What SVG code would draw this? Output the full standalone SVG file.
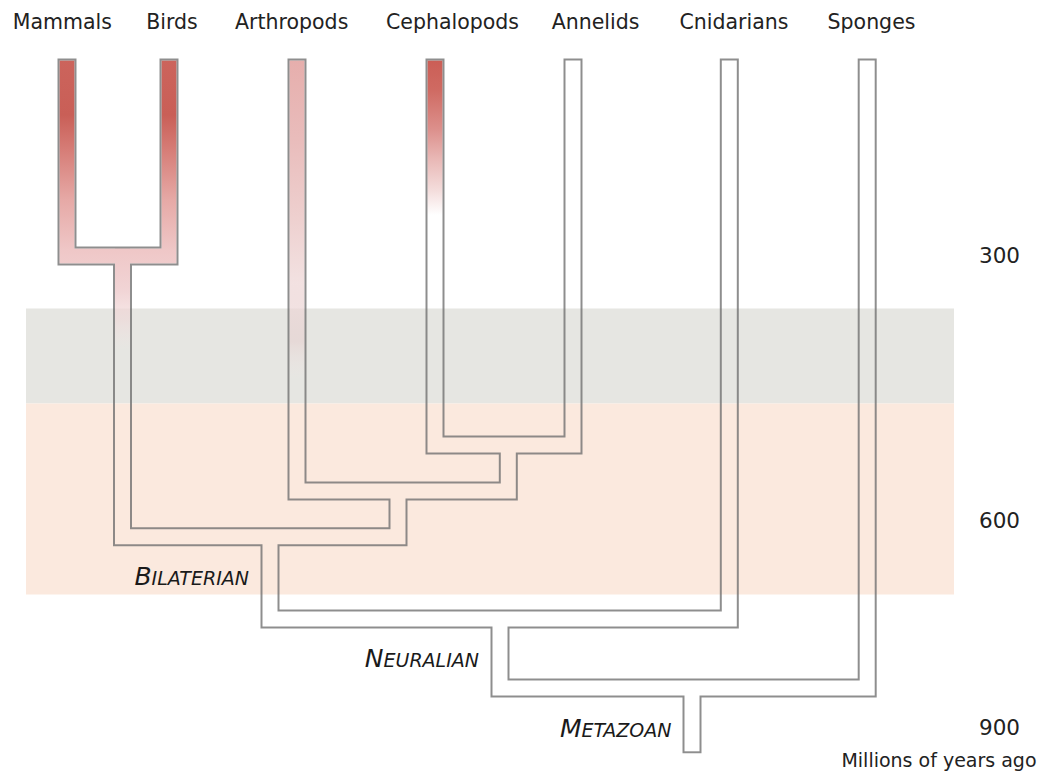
<svg xmlns="http://www.w3.org/2000/svg" width="1042" height="782" viewBox="0 0 1042 782">
<defs>
<style>
.lbl{font-family:"DejaVu Sans","Liberation Sans",sans-serif;font-size:20.5px;fill:#222;text-anchor:middle}
.num{font-family:"DejaVu Sans","Liberation Sans",sans-serif;font-size:21.5px;fill:#222;text-anchor:middle}
.axis{font-family:"DejaVu Sans","Liberation Sans",sans-serif;font-size:19px;fill:#222;text-anchor:middle}
.clade{font-family:"DejaVu Sans","Liberation Sans",sans-serif;font-style:italic;fill:#1a1a1a;text-anchor:end}
.big{font-size:25px}
.sm{font-size:19px}
.tube{fill:none;stroke-linecap:butt;stroke-linejoin:miter}
.outer{stroke:#727272;stroke-width:19;opacity:0.8;fill:none}
.hole{fill:none;stroke:#000;stroke-width:15;stroke-linecap:butt;stroke-linejoin:miter}
.fill{fill:none;stroke-width:15;stroke-linecap:square;stroke-linejoin:miter}
</style>
<linearGradient id="gMB" gradientUnits="userSpaceOnUse" x1="0" y1="58" x2="0" y2="350">
<stop offset="0" stop-color="#cc645c"/>
<stop offset="0.195" stop-color="#c95f57"/>
<stop offset="0.315" stop-color="#d67d77"/>
<stop offset="0.486" stop-color="#e6a9a6"/>
<stop offset="0.658" stop-color="#efc7c7"/>
<stop offset="0.795" stop-color="#f1d4d5"/>
<stop offset="0.897" stop-color="#f0d6d6" stop-opacity="0.55"/>
<stop offset="1" stop-color="#f5e3e3" stop-opacity="0"/>
</linearGradient>
<linearGradient id="gAR" gradientUnits="userSpaceOnUse" x1="0" y1="58" x2="0" y2="380">
<stop offset="0" stop-color="#e6aeac"/>
<stop offset="0.25" stop-color="#e9bcbb"/>
<stop offset="0.5" stop-color="#eed0cf"/>
<stop offset="0.7" stop-color="#f1dede" stop-opacity="0.9"/>
<stop offset="0.88" stop-color="#e6cccc" stop-opacity="0.5"/>
<stop offset="1" stop-color="#f5e6e6" stop-opacity="0"/>
</linearGradient>
<linearGradient id="gCE" gradientUnits="userSpaceOnUse" x1="0" y1="58" x2="0" y2="215">
<stop offset="0" stop-color="#cb5d55"/>
<stop offset="0.2" stop-color="#cf6a62"/>
<stop offset="0.45" stop-color="#dc8f8b"/>
<stop offset="0.65" stop-color="#e9b9b7"/>
<stop offset="0.85" stop-color="#f4dedd"/>
<stop offset="1" stop-color="#ffffff"/>
</linearGradient>
<mask id="hollow" maskUnits="userSpaceOnUse" x="0" y="0" width="1042" height="782">
<rect x="0" y="0" width="1042" height="782" fill="#fff"/>
<path class="hole" d="M67 60.5 V256 H169 V60.5"/>
<path class="hole" d="M122.5 256 V536.7 H398 V491"/>
<path class="hole" d="M297 60.5 V491 H508.3 V445"/>
<path class="hole" d="M435 60.5 V445 H573 V60.5"/>
<path class="hole" d="M270 536.7 V619 H729.3 V60.5"/>
<path class="hole" d="M500 619 V688 H867.2 V60.5"/>
<path class="hole" d="M692 688 V751.3"/>
</mask>
</defs>

<g id="bands">
<rect x="26" y="308.5" width="928" height="95" fill="#e6e6e2"/>
<rect x="26" y="403.5" width="928" height="191" fill="#fbe9de"/>
</g>

<g id="branch-fills">
<path class="fill" stroke="url(#gMB)" d="M67 68 V256 H169 V68"/>
<path class="fill" stroke="url(#gMB)" d="M122.5 256 V352"/>
<path class="fill" stroke="url(#gAR)" d="M297 68 V380"/>
<path class="fill" stroke="url(#gCE)" d="M435 68 V212"/>
</g>

<g id="connectors" class="outer" mask="url(#hollow)">
<path class="tube" d="M67 58.5 V256 H169 V58.5"/>
<path class="tube" d="M122.5 256 V536.7 H398 V491"/>
<path class="tube" d="M297 58.5 V491 H508.3 V445"/>
<path class="tube" d="M435 58.5 V445 H573 V58.5"/>
<path class="tube" d="M270 536.7 V619 H729.3 V58.5"/>
<path class="tube" d="M500 619 V688 H867.2 V58.5"/>
<path class="tube" d="M692 688 V753.3"/>
</g>

<g id="taxon-mammals"><text class="lbl" x="62.3" y="29">Mammals</text></g>
<g id="taxon-birds"><text class="lbl" x="172" y="29">Birds</text></g>
<g id="taxon-arthropods"><text class="lbl" x="291.7" y="29">Arthropods</text></g>
<g id="taxon-cephalopods"><text class="lbl" x="452.5" y="29">Cephalopods</text></g>
<g id="taxon-annelids"><text class="lbl" x="595.5" y="29">Annelids</text></g>
<g id="taxon-cnidarians"><text class="lbl" x="734" y="29">Cnidarians</text></g>
<g id="taxon-sponges"><text class="lbl" x="871.5" y="29">Sponges</text></g>

<g id="clade-bilaterian"><text class="clade" x="249" y="585"><tspan class="big">B</tspan><tspan class="sm">ILATERIAN</tspan></text></g>
<g id="clade-neuralian"><text class="clade" x="479" y="666.5"><tspan class="big">N</tspan><tspan class="sm">EURALIAN</tspan></text></g>
<g id="clade-metazoan"><text class="clade" x="671.5" y="736.5"><tspan class="big">M</tspan><tspan class="sm">ETAZOAN</tspan></text></g>

<g id="time-axis">
<text class="num" x="999.5" y="263">300</text>
<text class="num" x="999.5" y="527.5">600</text>
<text class="num" x="999.5" y="735">900</text>
<text class="axis" x="939" y="766.5">Millions of years ago</text>
</g>
</svg>
